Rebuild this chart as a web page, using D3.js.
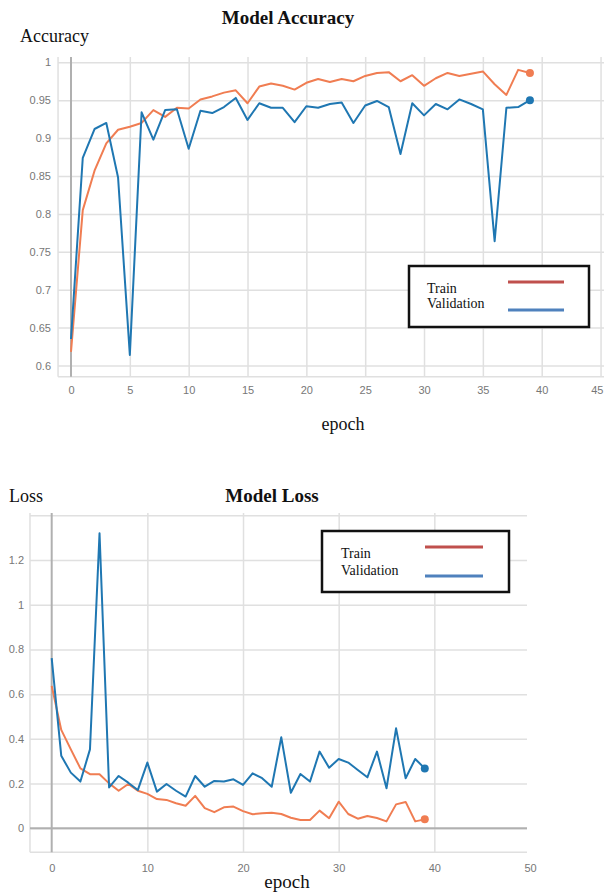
<!DOCTYPE html>
<html><head><meta charset="utf-8">
<script src="https://cdn.jsdelivr.net/npm/d3@7"></script>
<style>body{margin:0;background:#fff}svg{display:block}</style>
</head><body>
<script>
const epochs = d3.range(0, 40);
const accTrain = [0.618,0.805,0.857,0.893,0.911,0.915,0.920,0.937,0.928,0.940,0.939,0.951,0.955,0.960,0.963,0.946,0.968,0.972,0.969,0.964,
  0.973,0.978,0.974,0.978,0.975,0.982,0.986,0.987,0.975,0.983,0.969,0.979,0.986,0.982,0.985,0.988,0.971,0.957,0.990,0.986];
const accVal = [0.635,0.874,0.912,0.920,0.848,0.614,0.934,0.898,0.937,0.938,0.886,0.936,0.933,0.941,0.953,0.924,0.946,0.940,0.940,0.921,
  0.942,0.940,0.945,0.947,0.920,0.943,0.949,0.941,0.879,0.946,0.930,0.945,0.938,0.951,0.945,0.938,0.764,0.940,0.941,0.950];
const lossTrain = [0.637,0.440,0.353,0.268,0.242,0.242,0.201,0.168,0.198,0.168,0.154,0.131,0.127,0.112,0.101,0.145,0.090,0.072,0.094,0.097,
  0.077,0.063,0.067,0.070,0.064,0.047,0.037,0.037,0.079,0.045,0.119,0.064,0.043,0.055,0.046,0.031,0.107,0.118,0.031,0.040];
const lossVal = [0.761,0.324,0.249,0.209,0.353,1.320,0.183,0.234,0.204,0.171,0.294,0.164,0.198,0.168,0.142,0.234,0.186,0.212,0.209,0.219,
  0.194,0.246,0.224,0.186,0.407,0.159,0.243,0.209,0.343,0.271,0.310,0.294,0.261,0.228,0.343,0.179,0.447,0.224,0.310,0.268];
const accYTicks = [0.6,0.65,0.7,0.75,0.8,0.85,0.9,0.95,1];
const accXTicks = [0,5,10,15,20,25,30,35,40,45];
const lossYTicks = [0,0.2,0.4,0.6,0.8,1,1.2];
const lossGridY = [0,0.2,0.4,0.6,0.8,1,1.2,1.4];
const lossXTicks = [0,10,20,30,40,50];
const legendLabels = ["Train","Validation"];

const C_TRAIN = "#f07d52", C_VAL = "#1f77b2";
const svg = d3.select("body").append("svg").attr("width",604).attr("height",892);
const serif = "'Liberation Serif','Times New Roman',serif";
const sans = "'Liberation Sans',Arial,sans-serif";

function drawChart(o){
  const g = svg.append("g");
  const x = d3.scaleLinear().domain(o.xd).range(o.xr);
  const y = d3.scaleLinear().domain(o.yd).range(o.yr);
  const L = x(o.xmin), R = o.right, T = y(o.ymax), B = y(o.ymin);
  g.append("g").attr("transform",`translate(${L},0)`)
    .call(d3.axisRight(y).tickValues(o.gridY).tickSize(R-L).tickFormat(""))
    .call(a=>{a.select(".domain").remove();a.selectAll("line").attr("stroke","#e0e0e0").attr("stroke-width",1.5);});
  g.append("g").attr("transform",`translate(0,${T})`)
    .call(d3.axisBottom(x).tickValues(o.gridX).tickSize(B-T).tickFormat(""))
    .call(a=>{a.select(".domain").remove();a.selectAll("line").attr("stroke","#e0e0e0").attr("stroke-width",1.5);});
  g.append("line").attr("x1",L).attr("x2",L).attr("y1",T).attr("y2",B).attr("stroke","#e0e0e0").attr("stroke-width",1.5);
  g.append("line").attr("x1",L).attr("x2",R).attr("y1",B).attr("y2",B).attr("stroke","#e0e0e0").attr("stroke-width",1.5);
  g.append("line").attr("x1",x(0)).attr("x2",x(0)).attr("y1",T).attr("y2",B).attr("stroke","#b0b0b0").attr("stroke-width",2);
  if (o.zeroY) g.append("line").attr("x1",L).attr("x2",R).attr("y1",y(0)).attr("y2",y(0)).attr("stroke","#b0b0b0").attr("stroke-width",2);
  g.append("g").attr("transform",`translate(${o.yLabelX},0)`)
    .call(d3.axisLeft(y).tickValues(o.yTicks).tickSize(0).tickPadding(0).tickFormat(d3.format("")))
    .call(a=>{a.select(".domain").remove();a.selectAll("text").attr("fill","#777").attr("font-size",11).attr("font-family",sans);});
  g.append("g").attr("transform",`translate(0,${o.xLabelY})`)
    .call(d3.axisBottom(x).tickValues(o.xTicks).tickSize(0).tickPadding(0).tickFormat(d3.format("")))
    .call(a=>{a.select(".domain").remove();
      a.selectAll("text").attr("fill","#777").attr("font-size",11).attr("font-family",sans).attr("dy","0.32em")
       .filter(d=>x(d)>596).attr("text-anchor","end").attr("x",603-x.range()[0]+0).attr("dx",0)
       .each(function(d){ d3.select(this).attr("x", 603 - x(d)); });});
  const line = d3.line().x((d,i)=>x(epochs[i])).y(d=>y(d));
  [[o.train,C_TRAIN],[o.val,C_VAL]].forEach(([s,c])=>{
    g.append("path").datum(s).attr("d",line).attr("fill","none").attr("stroke",c).attr("stroke-width",2).attr("stroke-linejoin","round");
    g.append("circle").attr("cx",x(epochs[s.length-1])).attr("cy",y(s[s.length-1])).attr("r",4).attr("fill",c);
  });
  g.append("text").attr("x",o.titleX).attr("y",o.titleY).attr("text-anchor","middle").attr("font-family",serif)
    .attr("font-weight","bold").attr("font-size",19).attr("fill","#111").text(o.title);
  g.append("text").attr("x",o.ylabX).attr("y",o.ylabY).attr("font-family",serif).attr("font-size",18).attr("fill","#111").text(o.ylab);
  g.append("text").attr("x",o.xlabX).attr("y",o.xlabY).attr("text-anchor","middle").attr("font-family",serif).attr("font-size",o.xlabSize).attr("fill","#111").text("epoch");
  const lg = o.legend;
  g.append("rect").attr("x",lg.x).attr("y",lg.y).attr("width",lg.w).attr("height",lg.h).attr("fill","#fff").attr("stroke","#111").attr("stroke-width",2.5);
  legendLabels.forEach((t,i)=>{
    g.append("text").attr("x",lg.tx).attr("y",lg.ty[i]).attr("font-family",serif).attr("font-size",14).attr("fill","#111").text(t);
    g.append("line").attr("x1",lg.lx1).attr("x2",lg.lx2).attr("y1",lg.ly[i]).attr("y2",lg.ly[i])
      .attr("stroke",i===0?"#c0504d":"#4f81bd").attr("stroke-width",3);
  });
}

drawChart({xd:[0,40],xr:[71,541.7],yd:[0.6,1],yr:[365.5,62.3],xmin:-1.1,right:604,ymin:0.585,ymax:1.007,
  gridY:accYTicks,gridX:[5,10,15,20,25,30,35,40,45],yTicks:accYTicks,xTicks:accXTicks,yLabelX:51,xLabelY:390,
  train:accTrain,val:accVal,title:"Model Accuracy",titleX:288,titleY:24,ylab:"Accuracy",ylabX:20,ylabY:42,
  xlabX:343,xlabY:430,xlabSize:18,
  legend:{x:409,y:266,w:180,h:61,tx:427,ty:[293,308],lx1:508,lx2:564,ly:[282,310]}});

drawChart({xd:[0,50],xr:[51.7,530],yd:[0,1.2],yr:[828.3,560],xmin:-2.27,right:527,ymin:-0.107,ymax:1.41,zeroY:true,
  gridY:lossGridY,gridX:[10,20,30,40],yTicks:lossYTicks,xTicks:lossXTicks,yLabelX:24,xLabelY:868,
  train:lossTrain,val:lossVal,title:"Model Loss",titleX:272,titleY:502,ylab:"Loss",ylabX:9,ylabY:502,
  xlabX:287,xlabY:888,xlabSize:19,
  legend:{x:322,y:531,w:187,h:61,tx:341,ty:[558,575],lx1:425,lx2:483,ly:[547,576]}});
</script>
</body></html>
